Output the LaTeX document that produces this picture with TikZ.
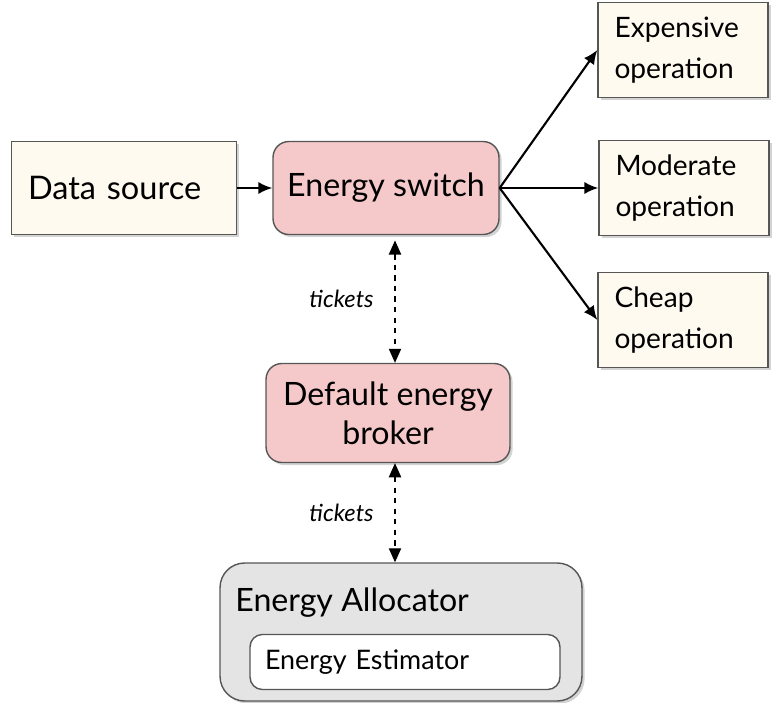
\documentclass[tikz,border=0pt]{standalone}
\usepackage{fontspec}
\setmainfont{Lato}
\usepackage{tikz}
\usetikzlibrary{arrows.meta,positioning,shadows,calc}
\definecolor{frame}{HTML}{565656}
\definecolor{cream}{HTML}{FFFAF0}
\definecolor{rose}{HTML}{F5C9C9}
\definecolor{shell}{HTML}{E4E4E4}

\begin{document}
\begin{tikzpicture}[x=0.02cm,y=-0.02cm,
  plain/.style={draw=frame,thick,fill=cream,align=left,inner xsep=0.33cm,
                drop shadow={opacity=0.35,shadow xshift=1.5pt,shadow yshift=-1.5pt}},
  opbox/.style={plain,text width=2.74cm,minimum height=1.9cm,
                font=\fontsize{16}{23}\selectfont},
  core/.style={draw=frame,thick,fill=rose,rounded corners=9pt,align=center,
               font=\fontsize{18.3}{22}\selectfont,
               drop shadow={opacity=0.35,shadow xshift=1.5pt,shadow yshift=-1.5pt}},
  arr/.style={-{Latex[length=8pt,width=7pt]},line width=1.2pt,black},
  tix/.style={{Triangle[length=8pt,width=7pt]}-{Triangle[length=8pt,width=7pt]},
              semithick,dashed,black},
  lbl/.style={font=\itshape\fontsize{13.5}{16}\selectfont,midway,left=0.3cm}
]
  \useasboundingbox (0,0) rectangle (772,703);

  % main chain
  \node[plain,text width=3.84cm,minimum height=1.86cm,font=\fontsize{18.5}{22}\selectfont]
        (src) at (124,188) {Data source};
  \node[core,minimum width=4.52cm,minimum height=1.86cm] (switch) at (386,188) {Energy switch};

  % operations
  \node[opbox] (exp) at (683,50)  {Expensive\\operation};
  \node[opbox] (mod) at (684,188) {Moderate\\operation};
  \node[opbox] (chp) at (683,320) {Cheap\\operation};

  \node[core,minimum width=4.88cm,minimum height=1.98cm] (broker) at (388,413)
        {Default energy\\broker};

  % allocator with its estimator inside
  \node[draw=frame,thick,fill=shell,rounded corners=14pt,minimum width=7.24cm,
        minimum height=2.76cm,drop shadow={opacity=0.35,shadow xshift=1.5pt,shadow yshift=-1.5pt}]
        (alloc) at (401,632) {};
  \node[anchor=west,inner sep=0pt,font=\fontsize{18.3}{21}\selectfont] (alloctext) at (235,603)
        {Energy Allocator};
  \node[draw=frame,thick,fill=white,rounded corners=7pt,minimum width=6.2cm,
        minimum height=1.1cm,text width=5.6cm,align=left,font=\fontsize{15.3}{18}\selectfont]
        (est) at (405,662) {Energy Estimator};

  \draw[arr] (src) -- (switch);
  \draw[arr] (switch.east) -- (exp.west);
  \draw[arr] (switch.east) -- (mod.west);
  \draw[arr] (switch.east) -- (chp.west);

  \draw[tix,shorten <=3pt] ([xshift=0.18cm]switch.south)
        -- node[lbl]{tickets} ([xshift=0.18cm]switch.south |- broker.north);
  \draw[tix] ([xshift=0.14cm]broker.south)
        -- node[lbl]{tickets} ([xshift=0.14cm]broker.south |- alloc.north);
\end{tikzpicture}
\end{document}
